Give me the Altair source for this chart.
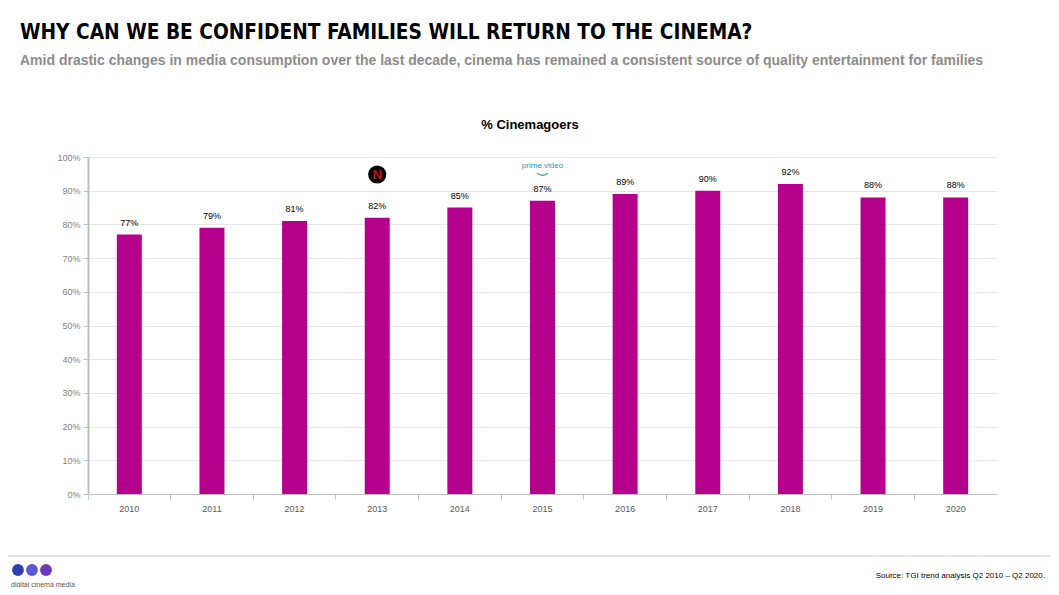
import altair as alt
import pandas as pd

years = ["2010", "2011", "2012", "2013", "2014", "2015", "2016", "2017", "2018", "2019", "2020"]
values = [77, 79, 81, 82, 85, 87, 89, 90, 92, 88, 88]
labels = [f"{v}%" for v in values]

title_text = "WHY CAN WE BE CONFIDENT FAMILIES WILL RETURN TO THE CINEMA?"
subtitle_text = "Amid drastic changes in media consumption over the last decade, cinema has remained a consistent source of quality entertainment for families"
chart_title = "% Cinemagoers"
source_text = "Source: TGI trend analysis Q2 2010 \u2013 Q2 2020."
logo_text = "digital cinema media"

# streaming service annotations
ann_years = ["2013", "2015"]
ann_values = [94.8, 96.8]

df = pd.DataFrame({"year": years, "value": values, "label": labels})
ann = pd.DataFrame({"year": ann_years, "value": ann_values})

W, H = 909, 337
FONT = "Liberation Sans"

xscale = alt.Scale(domain=years, paddingInner=0, paddingOuter=0)
yscale = alt.Scale(domain=[0, 100])

xenc = alt.X("year:N", scale=xscale, title=None,
             axis=alt.Axis(labelAngle=0, labelFont=FONT, labelFontSize=9, labelColor="#595959",
                           domainColor="#bfbfbf", tickColor="#bfbfbf", tickSize=5,
                           bandPosition=0, labelPadding=5, grid=False))
yenc = alt.Y("value:Q", scale=yscale, title=None,
             axis=alt.Axis(values=list(range(0, 101, 10)), labelExpr="datum.value + '%'",
                           labelFont=FONT, labelFontSize=9, labelColor="#7f7f7f",
                           domainColor="#bfbfbf", domainWidth=2, tickColor="#bfbfbf", tickSize=5,
                           gridColor="#e6e6e6", labelPadding=3, labelOverlap=False))

base = alt.Chart(df)

bars = base.mark_bar(size=25, color="#B4008C").encode(x=xenc, y=yenc)

text = base.mark_text(dy=-12, font=FONT, fontSize=9, color="#000000").encode(
    x=xenc, y=yenc, text="label:N",
)

annb = alt.Chart(ann)
netflix_c = annb.transform_filter(alt.datum.year == "2013").mark_point(
    filled=True, size=330, color="#000000", opacity=1).encode(x=xenc, y=yenc)
netflix_n = annb.transform_filter(alt.datum.year == "2013").mark_text(
    text="N", font=FONT, fontSize=13, fontWeight="bold", color="#c4161c").encode(x=xenc, y=yenc)
prime_t = annb.transform_filter(alt.datum.year == "2015").mark_text(
    text="prime video", font=FONT, fontSize=8, color="#1a98b8", dy=-2).encode(x=xenc, y=yenc)
prime_s = annb.transform_filter(alt.datum.year == "2015").mark_point(
    shape="M -1 -0.3 Q 0 0.5 1 -0.3", filled=False, size=120, strokeWidth=1.2,
    color="#1a98b8", opacity=1, yOffset=7).encode(x=xenc, y=yenc)

# page-level texts (positions relative to plot origin at page (88,157))
title = alt.Chart(pd.DataFrame({"t": [title_text]})).mark_text(
    align="left", baseline="middle", font="DejaVu Sans Condensed", fontSize=20.7, fontWeight="bold",
    color="#000000").encode(x=alt.value(-68), y=alt.value(-124), text="t:N")
subtitle = alt.Chart(pd.DataFrame({"t": [subtitle_text]})).mark_text(
    align="left", baseline="middle", font=FONT, fontSize=14, fontWeight="bold", color="#8c8c8c").encode(
    x=alt.value(-68), y=alt.value(-96), text="t:N")
ctitle = alt.Chart(pd.DataFrame({"t": [chart_title]})).mark_text(
    align="center", baseline="middle", font=FONT, fontSize=13, fontWeight="bold", color="#000000").encode(
    x=alt.value(442), y=alt.value(-32), text="t:N")
footer_line = alt.Chart(pd.DataFrame({"a": [0]})).mark_rule(color="#cccccc", strokeWidth=1).encode(
    x=alt.value(-88), x2=alt.value(971), y=alt.value(399))
source = alt.Chart(pd.DataFrame({"t": [source_text]})).mark_text(
    align="right", baseline="middle", font=FONT, fontSize=8, color="#000000").encode(
    x=alt.value(957), y=alt.value(419), text="t:N")
logo_df = pd.DataFrame({"px": [-70, -56, -42], "c": ["#2b3fae", "#5a56d6", "#6a3ab8"]})
logo = alt.Chart(logo_df).mark_point(filled=True, size=140, opacity=1).encode(
    x=alt.X("px:Q", scale=None), y=alt.value(413), color=alt.Color("c:N", scale=None))
logo_t = alt.Chart(pd.DataFrame({"t": [logo_text]})).mark_text(
    align="left", baseline="middle", font=FONT, fontSize=7, color="#555555").encode(
    x=alt.value(-77), y=alt.value(428), text="t:N")

chart = alt.layer(bars, text, netflix_c, netflix_n, prime_t, prime_s,
                  title, subtitle, ctitle, footer_line, source, logo, logo_t).properties(
    width=W, height=H,
    autosize=alt.AutoSizeParams(type="none"),
    padding={"left": 80, "top": 149, "right": 54, "bottom": 93},
).configure_view(stroke=None)

chart.save("out.html", embed_options={"renderer": "svg", "actions": False})
